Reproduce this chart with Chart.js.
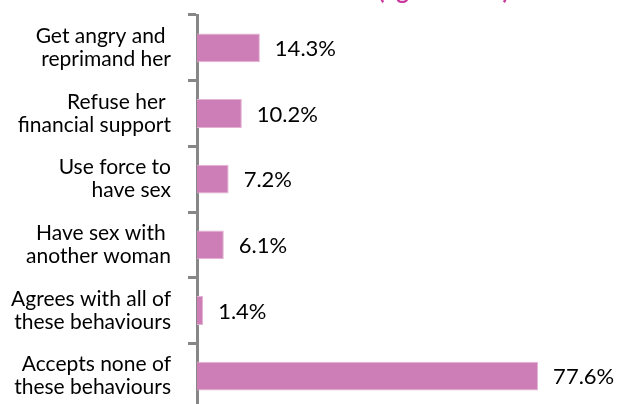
<!DOCTYPE html>
<html>
<head>
<meta charset="utf-8">
<script src="https://cdn.jsdelivr.net/npm/chart.js@4/dist/chart.umd.min.js"></script>
<style>
  html, body { margin: 0; padding: 0; background: #fff; overflow: hidden; width: 619px; height: 404px; }
  #wrap { position: absolute; left: 0; top: 0; width: 619px; height: 410px; }
</style>
</head>
<body>
<div id="wrap"><canvas id="c" width="619" height="410"></canvas></div>
<script>
const categories = [
  ["Get angry and ", "reprimand her"],
  ["Refuse her ", "financial support"],
  ["Use force to", "have sex"],
  ["Have sex with ", "another woman"],
  ["Agrees with all of", "these behaviours"],
  ["Accepts none of", "these behaviours"]
];
const values = [14.3, 10.2, 7.2, 6.1, 1.4, 77.6];
const valueLabels = ["14.3%", "10.2%", "7.2%", "6.1%", "1.4%", "77.6%"];
const titleText = "(ages 15-49)";

const valueLabelPlugin = {
  id: 'valueLabels',
  afterDatasetsDraw(chart) {
    const ctx = chart.ctx;
    const meta = chart.getDatasetMeta(0);
    ctx.save();
    ctx.font = '22px Lato, "Open Sans", sans-serif';
    ctx.fillStyle = '#000';
    ctx.textAlign = 'left';
    ctx.textBaseline = 'middle';
    meta.data.forEach((bar, i) => {
      ctx.fillText(valueLabels[i], bar.x + 15, bar.y + 1);
    });
    ctx.restore();
  }
};

const cutTitlePlugin = {
  id: 'cutTitle',
  afterDraw(chart) {
    const ctx = chart.ctx;
    ctx.save();
    ctx.font = 'bold 24px Lato, "Open Sans", sans-serif';
    ctx.fillStyle = '#c93a9c';
    ctx.textAlign = 'left';
    ctx.textBaseline = 'alphabetic';
    ctx.fillText(titleText, 378, -1);
    ctx.restore();
  }
};

new Chart(document.getElementById('c'), {
  type: 'bar',
  data: {
    labels: categories,
    datasets: [{
      data: values,
      backgroundColor: '#cd7eb6',
      borderColor: '#e3b3d3',
      borderWidth: 1,
      borderSkipped: 'start',
      barPercentage: 0.44,
      categoryPercentage: 1.0
    }]
  },
  options: {
    indexAxis: 'y',
    responsive: false,
    animation: false,
    devicePixelRatio: 1,
    layout: { padding: { top: 15, bottom: 1, left: 0, right: 0 } },
    plugins: {
      legend: { display: false },
      tooltip: { enabled: false },
      title: { display: false }
    },
    scales: {
      x: {
        display: false,
        min: 0,
        max: 96
      },
      y: {
        z: 1,
        offset: true,
        afterFit(scale) {
          scale.width = 197;
          scale.paddingTop = 0;
          scale.paddingBottom = 0;
        },
        border: { display: true, color: '#878787', width: 3 },
        grid: {
          offset: true,
          drawOnChartArea: false,
          drawTicks: true,
          tickLength: 9,
          color: '#878787',
          lineWidth: 3
        },
        ticks: {
          padding: 17,
          color: '#000',
          font: { family: 'Lato, "Open Sans", sans-serif', size: 21, lineHeight: 1.1 }
        }
      }
    }
  },
  plugins: [valueLabelPlugin, cutTitlePlugin]
});
</script>
</body>
</html>
